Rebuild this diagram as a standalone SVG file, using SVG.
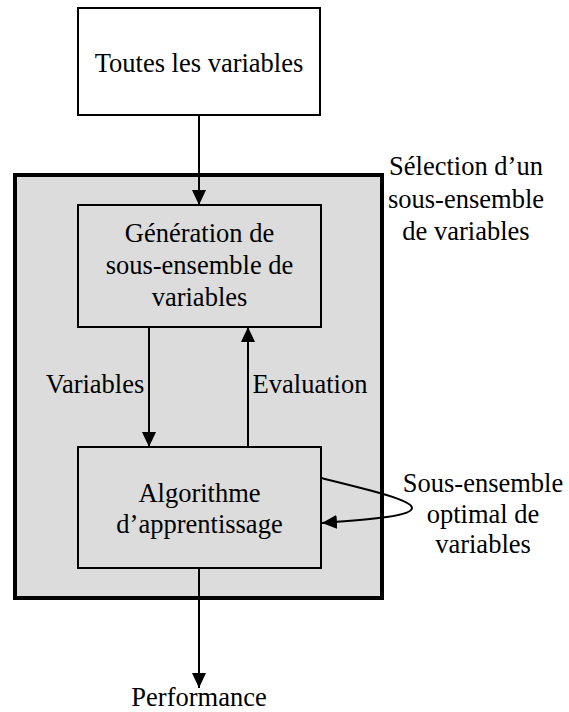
<svg xmlns="http://www.w3.org/2000/svg" width="569" height="712" viewBox="0 0 569 712">
<style>
text{font-size:26.5px;fill:#000;text-anchor:middle}
.box{stroke:#000;stroke-width:2}
.conn{stroke:#000;stroke-width:2;fill:none}
</style>
<defs>
<marker id="ah" markerUnits="userSpaceOnUse" markerWidth="16" markerHeight="14" refX="15" refY="7" orient="auto">
<path d="M0,0 L15,7 L0,14 z" fill="#000"/>
</marker>
</defs>
<rect width="569" height="712" fill="#fff"/>
<g font-family="'Liberation Serif', 'DejaVu Serif', serif">
<g id="selection">
<rect x="15" y="175" width="367" height="423" fill="#dcdcdc" stroke="#000" stroke-width="4"/>
<text x="466" y="175">Sélection d’un</text>
<text x="466" y="208">sous-ensemble</text>
<text x="466" y="240">de variables</text>
</g>
<g id="toutes">
<rect class="box" x="78" y="8" width="242" height="107" fill="#fff"/>
<text x="199" y="72">Toutes les variables</text>
</g>
<g id="generation">
<rect class="box" x="78" y="205" width="243" height="122" fill="#dcdcdc"/>
<text x="199.5" y="242">Génération de</text>
<text x="199.5" y="274">sous-ensemble de</text>
<text x="199.5" y="306">variables</text>
</g>
<g id="algorithme">
<rect class="box" x="78" y="447" width="243" height="121" fill="#dcdcdc"/>
<text x="199.5" y="502">Algorithme</text>
<text x="199.5" y="533">d’apprentissage</text>
</g>
<g id="performance">
<text x="199" y="706">Performance</text>
</g>
<g id="optimal">
<text x="483" y="492">Sous-ensemble</text>
<text x="483" y="523">optimal de</text>
<text x="483" y="553">variables</text>
</g>
<g id="connectors">
<line class="conn" x1="199" y1="115" x2="199" y2="205" marker-end="url(#ah)"/>
<line class="conn" x1="149" y1="327" x2="149" y2="447" marker-end="url(#ah)"/>
<line class="conn" x1="248" y1="447" x2="248" y2="327" marker-end="url(#ah)"/>
<line class="conn" x1="199" y1="568" x2="199" y2="688" marker-end="url(#ah)"/>
<path class="conn" d="M321,478 C370,490 412,500 412,508 C412,516 375,519 322,523" marker-end="url(#ah)"/>
<text x="95" y="393">Variables</text>
<text x="310" y="393">Evaluation</text>
</g>
</g>
</svg>
